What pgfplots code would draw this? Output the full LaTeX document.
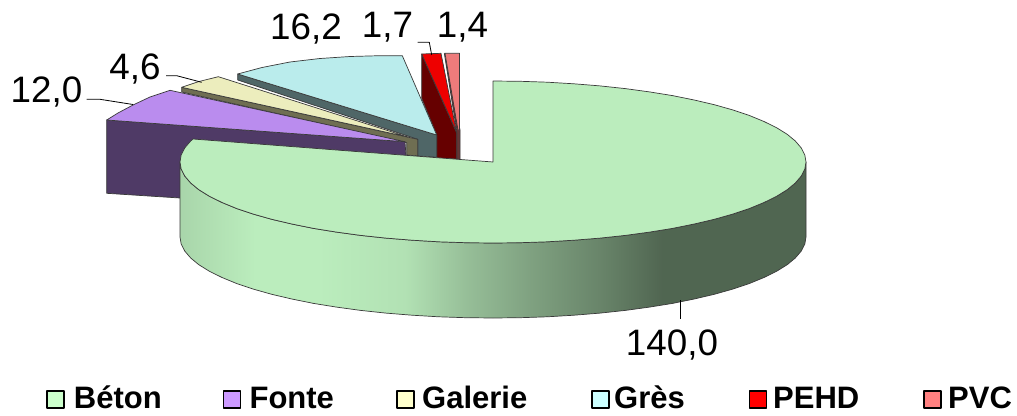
\documentclass[border=0pt]{standalone}
\usepackage{fontspec}
\setmainfont{Liberation Sans}
\usepackage{pgfplots}
\pgfplotsset{compat=1.18}

% Flat sector colours
\definecolor{betonTop}{HTML}{BBEDBD}
\definecolor{fonteTop}{HTML}{BA8CEE}
\definecolor{fonteSide}{HTML}{4F3A66}
\definecolor{galerieTop}{HTML}{ECEDBD}
\definecolor{galerieSide}{HTML}{6F6E52}
\definecolor{gresTop}{HTML}{BAECEC}
\definecolor{gresSide}{HTML}{4F6667}
\definecolor{pehdTop}{HTML}{EE0000}
\definecolor{pehdSide}{HTML}{660000}
\definecolor{pvcTop}{HTML}{EE7B7B}
\definecolor{pvcSide}{HTML}{663535}
\definecolor{edge}{HTML}{3A3A3A}
% Legend swatches
\definecolor{swBeton}{HTML}{CCFFCC}
\definecolor{swFonte}{HTML}{CC99FF}
\definecolor{swGalerie}{HTML}{FFFFCC}
\definecolor{swGres}{HTML}{CCFFFF}
\definecolor{swPehd}{HTML}{FF0000}
\definecolor{swPvc}{HTML}{FF8080}

% Curved wall of the large sector: lit on the left, in shade on the right
\pgfdeclarehorizontalshading{betonwall}{100bp}{
  color(0bp)=(betonTop!90!black);
  color(25bp)=(betonTop!90!black);
  color(31bp)=(betonTop);
  color(36bp)=(betonTop);
  color(43bp)=(betonTop!95!black);
  color(48bp)=(betonTop!80!black);
  color(53bp)=(betonTop!68!black);
  color(58.5bp)=(betonTop!56!black);
  color(63.5bp)=(betonTop!43!black);
  color(100bp)=(betonTop!43!black)}

\tikzset{
  lab/.style={anchor=base, inner sep=0pt, font=\fontsize{36.8}{40}\selectfont},
  leg/.style={anchor=base west, inner sep=0pt, font=\fontsize{31}{34}\selectfont\bfseries},
  sw/.style={line width=1.6pt, draw=black},
}

\begin{document}
\begin{tikzpicture}
\begin{axis}[
  scale only axis, width=1017pt, height=415pt,
  xmin=0, xmax=1017, ymin=0, ymax=415, y dir=reverse,
  hide axis, clip=false,
  every axis plot/.append style={line width=0.7pt, draw=edge, line join=round},
]

% Page background
\addplot[draw=none, fill=white] coordinates {(0,0) (1017,0) (1017,415) (0,415)} --cycle;

% PVC
\addplot[fill=pvcSide] coordinates {(444.3,53.3) (456.7,131) (456.7,159) (460,159.5) (460,130)} --cycle;
\addplot[fill=pvcTop] coordinates {(445,53.3) (459.5,53.3) (459.5,130) (458,130)} --cycle;

% PEHD
\addplot[fill=pehdSide] coordinates {(421.7,54) (421.7,98.3) (436.7,135) (436.7,158.3) (456.7,159) (456.7,133)} --cycle;
\addplot[fill=pehdTop] coordinates {(421.7,54) (441,53.3) (456.5,132)} --cycle;

% Grès
\addplot[fill=gresSide] coordinates {(237.7,74) (237.7,80) (417.7,139.3) (417.7,156) (436.7,157.3) (436.7,135)} --cycle;
\addplot[fill=gresTop] coordinates {(237.7,74) (262,67.5) (290,62) (320,58.5) (350,56.5) (376,55.8) (402.3,55.7) (436.7,135)} --cycle;

% Galerie
\addplot[fill=galerieSide] coordinates {(181.7,87.3) (181.7,92) (406.7,142.7) (406.7,155) (417.7,156) (417.7,139.3)} --cycle;
\addplot[fill=galerieTop] coordinates {(181.7,87.3) (199,81.5) (218.3,76.7) (408,137)} --cycle;

% Fonte
\addplot[fill=fonteSide] coordinates {(106.7,120) (405,141.7) (406,156) (300,200) (180,198) (106.7,193.3)} --cycle;
\addplot[fill=fonteTop] coordinates {(106.7,120) (118,113) (133,105) (150,97) (170,90.3) (405,141.7)} --cycle;

% Béton: curved wall, then the flat top
\addplot[shade, shading=betonwall] coordinates {
  (806,162) (804.8,169.1) (801.2,176.1) (795.3,183) (787.2,189.7) (776.7,196.2)
  (764,202.5) (749.4,208.5) (732.7,214.1) (714.3,219.3) (694.2,224) (672.5,228.4)
  (649.5,232.1) (625.3,235.4) (600.1,238.1) (574,240.2) (547.3,241.8) (520.3,242.7)
  (493,243) (465.7,242.7) (438.7,241.8) (412,240.2) (385.9,238.1) (360.7,235.4)
  (336.5,232.1) (313.5,228.4) (291.8,224) (271.7,219.3) (253.3,214.1) (236.6,208.5)
  (222,202.5) (209.3,196.2) (198.8,189.7) (190.7,183) (184.8,176.1) (181.2,169.1) (180,162)
  (180,237) (181.2,244.1) (184.8,251.1) (190.7,258) (198.8,264.7) (209.3,271.2)
  (222,277.5) (236.6,283.5) (253.3,289.1) (271.7,294.3) (291.8,299) (313.5,303.4)
  (336.5,307.1) (360.7,310.4) (385.9,313.1) (412,315.2) (438.7,316.8) (465.7,317.7)
  (493,318) (520.3,317.7) (547.3,316.8) (574,315.2) (600.1,313.1) (625.3,310.4)
  (649.5,307.1) (672.5,303.4) (694.2,299) (714.3,294.3) (732.7,289.1) (749.4,283.5)
  (764,277.5) (776.7,271.2) (787.2,264.7) (795.3,258) (801.2,251.1) (804.8,244.1) (806,237)
} --cycle;
\addplot[fill=betonTop] coordinates {
  (493,162) (493,81) (520.3,81.3) (547.3,82.2) (574,83.8) (600.1,85.9) (625.3,88.6)
  (649.5,91.9) (672.5,95.6) (694.2,100) (714.3,104.7) (732.7,109.9) (749.4,115.5)
  (764,121.5) (776.7,127.8) (787.2,134.3) (795.3,141) (801.2,147.9) (804.8,154.9)
  (806,162) (804.8,169.1) (801.2,176.1) (795.3,183) (787.2,189.7) (776.7,196.2)
  (764,202.5) (749.4,208.5) (732.7,214.1) (714.3,219.3) (694.2,224) (672.5,228.4)
  (649.5,232.1) (625.3,235.4) (600.1,238.1) (574,240.2) (547.3,241.8) (520.3,242.7)
  (493,243) (465.7,242.7) (438.7,241.8) (412,240.2) (385.9,238.1) (360.7,235.4)
  (336.5,232.1) (313.5,228.4) (291.8,224) (271.7,219.3) (253.3,214.1) (236.6,208.5)
  (222,202.5) (209.3,196.2) (198.8,189.7) (190.7,183) (184.8,176.1) (181.2,169.1)
  (180,162) (181.2,154.9) (184.8,147.9) (190.7,141) (193,139)
} --cycle;

% Leader lines
\addplot[line width=0.8pt, draw=black] coordinates {(86.7,99.3) (100,99.3) (133,104.5)};
\addplot[line width=0.8pt, draw=black] coordinates {(166,75.7) (176.7,75.7) (201.7,82.3)};
\addplot[line width=0.8pt, draw=black] coordinates {(417.7,42.3) (429.3,42.3) (431.7,55)};
\addplot[line width=0.8pt, draw=black] coordinates {(680.3,300) (680.3,319)};

% Value labels
\node[lab] at (axis cs:46.5,102.5) {12,0};
\node[lab] at (axis cs:135,79) {4,6};
\node[lab] at (axis cs:306,39) {16,2};
\node[lab] at (axis cs:387.5,37) {1,7};
\node[lab] at (axis cs:462.5,37) {1,4};
\node[lab] at (axis cs:672,355) {140,0};

% Legend
\addplot[sw, fill=swBeton] coordinates {(47,391) (64,391) (64,408) (47,408)} --cycle;
\addplot[sw, fill=swFonte] coordinates {(223.5,391) (240.5,391) (240.5,408) (223.5,408)} --cycle;
\addplot[sw, fill=swGalerie] coordinates {(397,391) (414,391) (414,408) (397,408)} --cycle;
\addplot[sw, fill=swGres] coordinates {(592,391) (609,391) (609,408) (592,408)} --cycle;
\addplot[sw, fill=swPehd] coordinates {(749.5,391) (766.5,391) (766.5,408) (749.5,408)} --cycle;
\addplot[sw, fill=swPvc] coordinates {(924,391) (941,391) (941,408) (924,408)} --cycle;
\node[leg] at (axis cs:73.7,408.5) {Béton};
\node[leg] at (axis cs:249.4,408.5) {Fonte};
\node[leg] at (axis cs:422,408.5) {Galerie};
\node[leg] at (axis cs:614,408.5) {Grès};
\node[leg] at (axis cs:773,408.5) {PEHD};
\node[leg] at (axis cs:948,408.5) {PVC};
\end{axis}
\end{tikzpicture}
\end{document}
